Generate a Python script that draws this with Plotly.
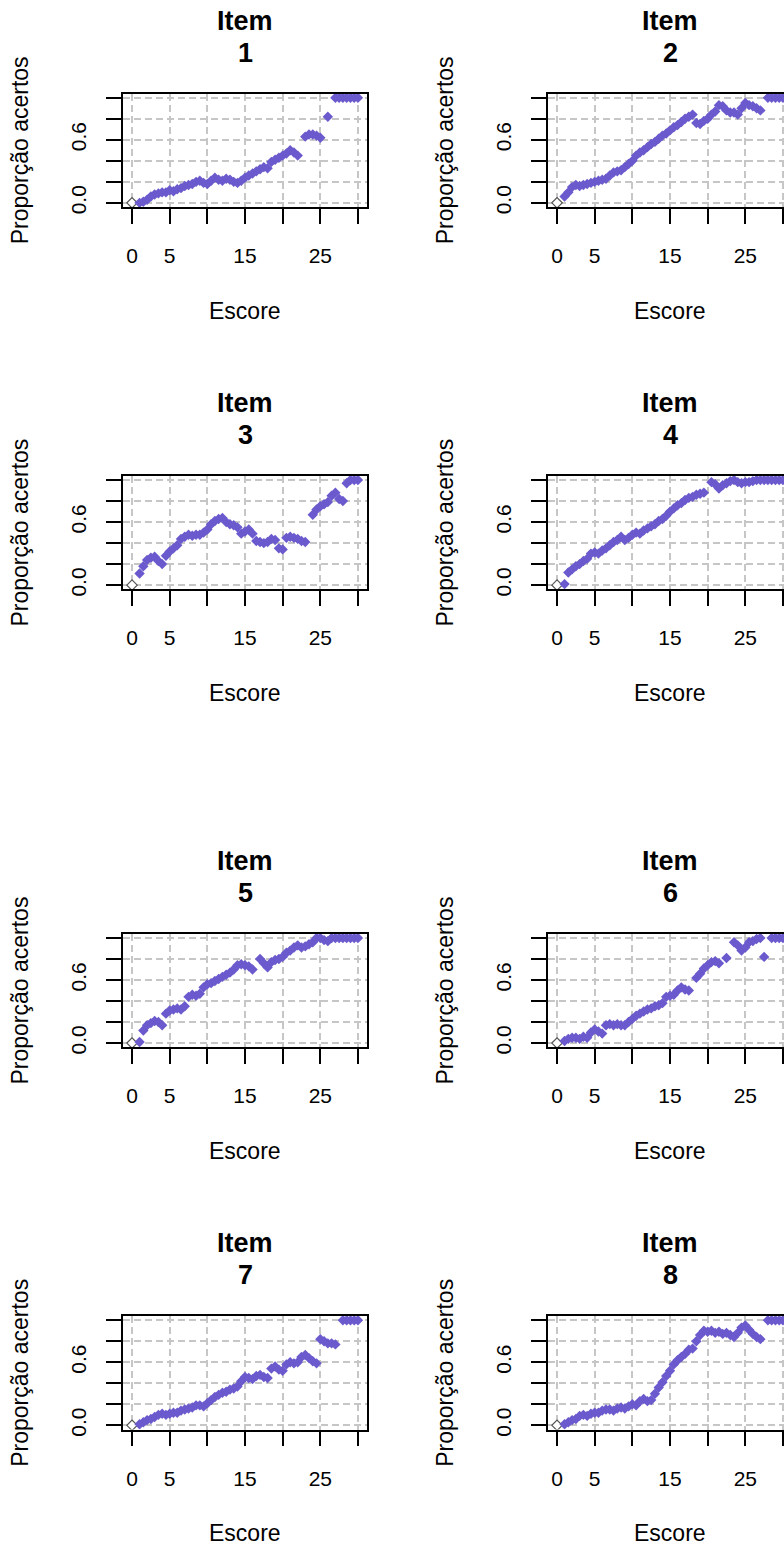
import plotly.graph_objects as go

W, H = 784, 1555

ESCORE = [1.0, 1.5, 2.0, 2.5, 3.0, 3.5, 4.0, 4.5, 5.0, 5.5,
          6.0, 6.5, 7.0, 7.5, 8.0, 8.5, 9.0, 9.5, 10.0, 10.5,
          11.0, 11.5, 12.0, 12.5, 13.0, 13.5, 14.0, 14.5, 15.0, 15.5,
          16.0, 16.5, 17.0, 17.5, 18.0, 18.5, 19.0, 19.5, 20.0, 20.5,
          21.0, 21.5, 22.0, 22.5, 23.0, 23.5, 24.0, 24.5, 25.0, 25.5,
          26.0, 26.5, 27.0, 27.5, 28.0, 28.5, 29.0, 29.5, 30.0]

ITEM1 = [0.00, 0.01, 0.03, 0.06, 0.08, 0.09, 0.10, 0.10, 0.12, 0.11,
         0.13, 0.14, 0.16, 0.17, 0.18, 0.20, 0.21, 0.19, 0.18, 0.21,
         0.24, 0.22, 0.21, 0.23, 0.22, 0.20, 0.19, 0.21, 0.24, 0.26,
         0.28, 0.30, 0.32, 0.34, 0.33, 0.39, 0.41, 0.43, 0.45, 0.47,
         0.50, 0.48, 0.45, None, 0.63, 0.65, 0.65, 0.64, 0.62, None,
         0.82, None, 1, 1, 1, 1, 1, 1, 1]
ITEM2 = [0.06, 0.10, 0.15, 0.17, 0.16, 0.17, 0.18, 0.19, 0.20, 0.21,
         0.22, 0.23, 0.26, 0.29, 0.30, 0.31, 0.34, 0.37, 0.40, 0.45,
         0.48, 0.50, 0.53, 0.56, 0.58, 0.61, 0.64, 0.66, 0.69, 0.72,
         0.74, 0.77, 0.80, 0.82, 0.84, 0.76, 0.75, 0.78, 0.80, 0.84,
         0.87, 0.93, 0.92, 0.88, 0.86, 0.86, 0.84, 0.90, 0.95, 0.93,
         0.92, 0.90, 0.88, None, 1, 1, 1, 1, 1]
ITEM3 = [0.11, 0.18, 0.24, 0.26, 0.27, 0.23, 0.20, 0.28, 0.32, 0.35,
         0.38, 0.44, 0.46, 0.48, 0.47, 0.48, 0.48, 0.50, 0.53, 0.58,
         0.61, 0.63, 0.64, 0.60, 0.58, 0.57, 0.55, 0.49, 0.51, 0.53,
         0.49, 0.42, 0.41, 0.40, 0.41, 0.44, 0.43, 0.35, 0.34, 0.45,
         0.46, 0.45, 0.44, 0.42, 0.41, None, 0.67, 0.72, 0.75, 0.77,
         0.79, 0.85, 0.88, 0.82, 0.80, 0.97, 1, 1, 1]
ITEM4 = [0.01, 0.12, 0.15, 0.18, 0.20, 0.23, 0.25, 0.30, 0.31, 0.30,
         0.33, 0.35, 0.38, 0.41, 0.43, 0.46, 0.43, 0.45, 0.48, 0.50,
         0.49, 0.52, 0.54, 0.56, 0.58, 0.61, 0.63, 0.66, 0.70, 0.73,
         0.76, 0.78, 0.81, 0.83, 0.84, 0.86, 0.87, 0.88, None, 0.98,
         0.96, 0.92, 0.95, 0.97, 0.99, 1.0, 0.98, 0.97, 0.98, 0.98,
         0.99, 1, 1, 1, 1, 1, 1, 1, 1]
ITEM5 = [0.01, 0.12, 0.17, 0.19, 0.21, 0.20, 0.17, 0.28, 0.31, 0.32,
         0.33, 0.32, 0.35, 0.44, 0.46, 0.45, 0.47, 0.53, 0.56, 0.57,
         0.59, 0.61, 0.63, 0.65, 0.67, 0.70, 0.74, 0.75, 0.74, 0.73,
         0.70, None, 0.80, 0.76, 0.72, 0.77, 0.79, 0.80, 0.82, 0.86,
         0.88, 0.91, 0.93, 0.91, 0.92, 0.94, 0.96, 1.0, 1.0, 0.98,
         0.97, 1, 1, 1, 1, 1, 1, 1, 1]
ITEM6 = [0.02, 0.04, 0.05, 0.05, 0.04, 0.06, 0.05, 0.10, 0.13, 0.11,
         0.09, 0.17, 0.18, 0.17, 0.18, 0.17, 0.17, 0.20, 0.23, 0.26,
         0.28, 0.30, 0.32, 0.33, 0.35, 0.36, 0.38, 0.44, 0.45, 0.46,
         0.50, 0.53, 0.51, 0.50, None, 0.62, 0.66, 0.71, 0.74, 0.77,
         0.78, 0.76, None, 0.81, None, 0.96, 0.93, 0.88, 0.91, 0.96,
         0.97, 0.99, 1.0, 0.82, None, 1, 1, 1, 1]
ITEM7 = [0.01, 0.03, 0.05, 0.06, 0.08, 0.10, 0.11, 0.10, 0.11, 0.12,
         0.12, 0.14, 0.15, 0.16, 0.17, 0.19, 0.19, 0.18, 0.21, 0.24,
         0.27, 0.29, 0.31, 0.32, 0.34, 0.35, 0.37, 0.42, 0.46, 0.45,
         0.44, 0.47, 0.48, 0.46, 0.45, 0.54, 0.56, 0.53, 0.52, 0.58,
         0.60, 0.59, 0.60, 0.65, 0.67, 0.64, 0.61, 0.59, 0.82, 0.80,
         0.78, 0.78, 0.77, None, 1, 1, 1, 1, 1]
ITEM8 = [0.01, 0.03, 0.05, 0.06, 0.09, 0.10, 0.09, 0.11, 0.12, 0.12,
         0.14, 0.15, 0.15, 0.14, 0.16, 0.17, 0.16, 0.18, 0.20, 0.19,
         0.23, 0.25, 0.23, 0.24, 0.30, 0.36, 0.41, 0.47, 0.52, 0.58,
         0.62, 0.65, 0.68, 0.72, 0.73, 0.80, 0.86, 0.90, 0.89, 0.90,
         0.88, 0.89, 0.87, 0.88, 0.86, 0.84, 0.88, 0.93, 0.95, 0.91,
         0.87, 0.84, 0.82, None, 1, 1, 1, 1, 1]

ITEMS = [ITEM1, ITEM2, ITEM3, ITEM4, ITEM5, ITEM6, ITEM7, ITEM8]
ITEM_LABELS = ["1", "2", "3", "4", "5", "6", "7", "8"]
ORIGIN_X = [0]
ORIGIN_Y = [0]

X_TICKS = [0, 5, 10, 15, 20, 25, 30]
X_TICKTEXT = ["0", "5", "", "15", "", "25", ""]
Y_TICKS = [0, 0.2, 0.4, 0.6, 0.8, 1.0]
Y_TICKTEXT = ["0.0", "", "", "0.6", "", ""]

PURPLE = "#6A5ACD"
FONT = "Liberation Sans, Arial, sans-serif"

# plot boxes in pixels (left, right, top, bottom)
COL_LR = [(123, 367), (548, 784)]
ROW_TB = [(94, 208), (478, 592), (938, 1052), (1322, 1436)]
PX_PER_UNIT = 244 / 32.4

fig = go.Figure()
annotations = []
layout_axes = {}

for i, vals in enumerate(ITEMS):
    r, c = divmod(i, 2)
    n = i + 1
    xa = "x" if n == 1 else f"x{n}"
    ya = "y" if n == 1 else f"y{n}"
    left, right = COL_LR[c]
    top, bottom = ROW_TB[r]
    x_hi = -1.2 + (right - left) / PX_PER_UNIT

    fig.add_trace(go.Scatter(
        x=ORIGIN_X, y=ORIGIN_Y, mode="markers", xaxis=xa, yaxis=ya,
        marker=dict(symbol="diamond", size=8, color="white",
                    line=dict(color="#555555", width=1.2)),
        showlegend=False, hoverinfo="skip"))
    fig.add_trace(go.Scatter(
        x=ESCORE, y=vals, mode="markers", xaxis=xa, yaxis=ya,
        marker=dict(symbol="diamond", size=8, color=PURPLE,
                    line=dict(width=0)),
        showlegend=False))

    common = dict(
        ticks="outside", ticklen=15, tickwidth=1.6, tickcolor="black",
        showline=True, linecolor="black", linewidth=1.8,
        showgrid=True, gridcolor="#c6c6c6", gridwidth=1.5,
        griddash="7px,4px", zeroline=False,
        tickfont=dict(family=FONT, size=21, color="black"),
    )
    layout_axes["xaxis" if n == 1 else f"xaxis{n}"] = dict(
        common, domain=[left / W, right / W], anchor=ya,
        range=[-1.2, x_hi], tickmode="array", tickvals=X_TICKS,
        ticktext=X_TICKTEXT, mirror=True, ticklabelstandoff=14,
    )
    layout_axes["yaxis" if n == 1 else f"yaxis{n}"] = dict(
        common, domain=[1 - bottom / H, 1 - top / H], anchor=xa,
        range=[-0.04, 1.04], tickmode="array", tickvals=Y_TICKS,
        ticktext=Y_TICKTEXT, tickangle=-90, mirror=(c == 0),
        ticklabelstandoff=12,
    )

    cx = (left + (left + 244)) / 2
    split = top - 57
    annotations.append(dict(
        text="<b>Item</b>", x=cx / W, y=1 - split / H,
        xref="paper", yref="paper", xanchor="center", yanchor="bottom",
        showarrow=False, borderpad=0,
        font=dict(family=FONT, size=27, color="black")))
    annotations.append(dict(
        text=f"<b>{ITEM_LABELS[i]}</b>", x=cx / W, y=1 - split / H,
        xref="paper", yref="paper", xanchor="center", yanchor="top",
        showarrow=False, borderpad=0,
        font=dict(family=FONT, size=27, color="black")))
    annotations.append(dict(
        text="Escore", x=cx / W, y=1 - (bottom + 104) / H,
        xref="paper", yref="paper", xanchor="center", yanchor="middle",
        showarrow=False, font=dict(family=FONT, size=23, color="black")))
    annotations.append(dict(
        text="Proporção acertos", x=(20 + 425 * c) / W,
        y=1 - ((top + bottom) / 2) / H, textangle=-90,
        xref="paper", yref="paper", xanchor="center", yanchor="middle",
        showarrow=False, font=dict(family=FONT, size=23, color="black")))

fig.update_layout(
    width=W, height=H,
    margin=dict(l=0, r=0, t=0, b=0),
    paper_bgcolor="white", plot_bgcolor="white",
    showlegend=False,
    annotations=annotations,
    **layout_axes,
)

fig.write_html("out.html")
